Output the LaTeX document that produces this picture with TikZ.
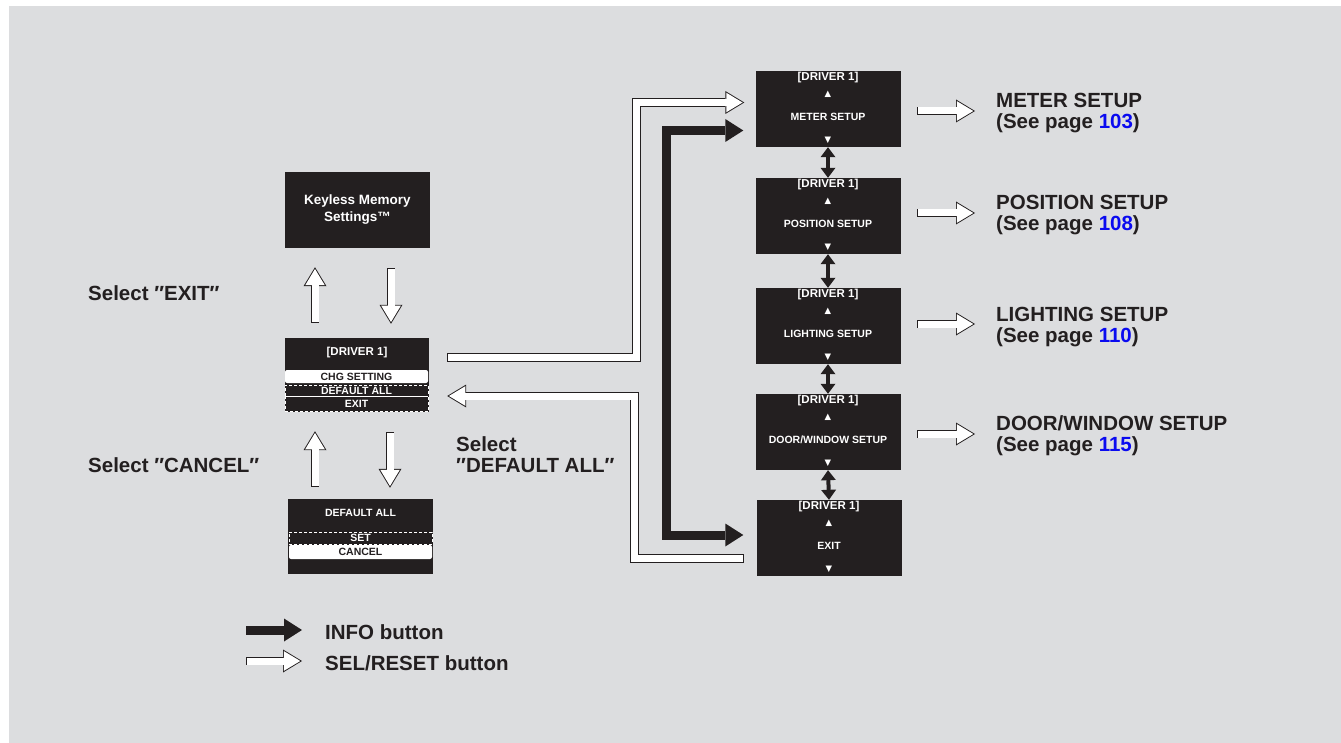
\documentclass[tikz,border=0pt]{standalone}
\usepackage{fontspec}
\setmainfont{Liberation Sans}
\newfontfamily\symfont{DejaVu Sans}
\usetikzlibrary{arrows.meta,calc}
\definecolor{bg}{HTML}{DCDDDF}
\definecolor{ink}{HTML}{231F20}
\definecolor{lnk}{HTML}{0A0AF0}
\newcommand\hollow[1]{\draw[holout] #1; \draw[holin] #1; \draw[holfix] #1;}
\begin{document}
\begin{tikzpicture}[x=1pt,y=-1pt,
  screen/.style={fill=ink, minimum width=145pt, minimum height=76pt, inner sep=0pt},
  scrtxt/.style={text=white, font=\bfseries\fontsize{10.5}{12}\selectfont, inner sep=0pt},
  tri/.style={text=white, font=\symfont\fontsize{8.5}{8.5}\selectfont, inner sep=0pt},
  rowsel/.style={fill=white, rounded corners=2pt, text=ink, font=\bfseries\fontsize{10.5}{12}\selectfont, inner sep=0pt, minimum width=143pt},
  rowdash/.style={draw=white, densely dashed, line width=0.8pt, text=white, font=\bfseries\fontsize{10.5}{12}\selectfont, inner sep=0pt, minimum width=143pt},
  lab/.style={text=ink, font=\bfseries\fontsize{20.5}{21}\selectfont, inner sep=0pt},
  holout/.style={line width=8.8pt, ink, -{Triangle[length=19pt,width=23pt,line width=0pt]}},
  holin/.style={line width=7pt, white, shorten <=0.9pt, shorten >=1.75pt, -{Triangle[length=16.3pt,width=19.6pt,line width=0pt]}},
  holfix/.style={line width=7pt, white, shorten <=0.9pt, shorten >=15pt},
  blk/.style={line width=9pt, ink, -{Triangle[length=18pt,width=23pt,line width=0pt]}},
  blkboth/.style={line width=9pt, ink, {Triangle[length=18pt,width=23pt,line width=0pt]}-{Triangle[length=18pt,width=23pt,line width=0pt]}},
  dbl/.style={line width=4pt, ink, {Triangle[length=10pt,width=15pt,line width=0pt]}-{Triangle[length=10pt,width=15pt,line width=0pt]}}
]
\useasboundingbox (0,0) rectangle (1341,743);
\fill[white] (0,0) rectangle (1341,743);
\fill[bg] (9,6) rectangle (1341,743);

% left column screens
\node[screen] (kms) at (357.5,210) {};
\node[scrtxt, font=\bfseries\fontsize{13.5}{17}\selectfont, align=center] (kmst) at (kms.center) {Keyless Memory\\Settings™};

\node[screen, minimum width=144pt, minimum height=74pt] (d1) at (357,375) {};
\node[scrtxt, font=\bfseries\fontsize{11.5}{12}\selectfont] (d1t) at (357,353) {[DRIVER 1]};
\node[rowsel, minimum height=13pt] (d1a) at (356.5,376.5) {CHG SETTING};
\node[rowdash, minimum height=11pt] (d1b) at (356.5,390.5) {DEFAULT ALL};
\node[rowdash, minimum height=15pt] (d1c) at (356.5,404) {EXIT};

\node[screen, minimum height=75pt] (da) at (360.5,536.5) {};
\node[scrtxt] (dat) at (360.5,513) {DEFAULT ALL};
\node[rowdash, minimum height=12pt] (das) at (360.5,538) {SET};
\node[rowsel, minimum height=14pt] (dac) at (360.5,552) {CANCEL};

% right column screens
\node[screen] (m1) at (828,109) {};
\node[scrtxt, font=\bfseries\fontsize{11.5}{12}\selectfont] (m1a) at ([yshift=31pt]m1.center) {[DRIVER 1]};
\node[tri] (m1b) at ([yshift=15pt]m1.center) {▲};
\node[scrtxt] (m1c) at ([yshift=-8pt]m1.center) {METER SETUP};
\node[tri] (m1d) at ([yshift=-31pt]m1.center) {▼};

\node[screen] (m2) at (828,216) {};
\node[scrtxt, font=\bfseries\fontsize{11.5}{12}\selectfont] (m2a) at ([yshift=31pt]m2.center) {[DRIVER 1]};
\node[tri] (m2b) at ([yshift=15pt]m2.center) {▲};
\node[scrtxt] (m2c) at ([yshift=-8pt]m2.center) {POSITION SETUP};
\node[tri] (m2d) at ([yshift=-31pt]m2.center) {▼};

\node[screen] (m3) at (828,326) {};
\node[scrtxt, font=\bfseries\fontsize{11.5}{12}\selectfont] (m3a) at ([yshift=31pt]m3.center) {[DRIVER 1]};
\node[tri] (m3b) at ([yshift=15pt]m3.center) {▲};
\node[scrtxt] (m3c) at ([yshift=-8pt]m3.center) {LIGHTING SETUP};
\node[tri] (m3d) at ([yshift=-31pt]m3.center) {▼};

\node[screen] (m4) at (828,432) {};
\node[scrtxt, font=\bfseries\fontsize{11.5}{12}\selectfont] (m4a) at ([yshift=31pt]m4.center) {[DRIVER 1]};
\node[tri] (m4b) at ([yshift=15pt]m4.center) {▲};
\node[scrtxt] (m4c) at ([yshift=-8pt]m4.center) {DOOR/WINDOW SETUP};
\node[tri] (m4d) at ([yshift=-31pt]m4.center) {▼};

\node[screen] (m5) at (829,538) {};
\node[scrtxt, font=\bfseries\fontsize{11.5}{12}\selectfont] (m5a) at ([yshift=31pt]m5.center) {[DRIVER 1]};
\node[tri] (m5b) at ([yshift=15pt]m5.center) {▲};
\node[scrtxt] (m5c) at ([yshift=-8pt]m5.center) {EXIT};
\node[tri] (m5d) at ([yshift=-31pt]m5.center) {▼};

% labels (multi-line nodes: base = last line)
\node[lab, anchor=base west] (selexit) at (88,301) {Select ″EXIT″};
\node[lab, anchor=base west] (selcancel) at (88,472) {Select ″CANCEL″};
\node[lab, anchor=base west, align=left] (seldef) at (456,472) {Select\\″DEFAULT ALL″};

\node[lab, anchor=base west, align=left] (l1) at (996,129) {METER SETUP\\(See page \textcolor{lnk}{103})};
\node[lab, anchor=base west, align=left] (l2) at (996,231) {POSITION SETUP\\(See page \textcolor{lnk}{108})};
\node[lab, anchor=base west, align=left] (l3) at (996,342) {LIGHTING SETUP\\(See page \textcolor{lnk}{110})};
\node[lab, anchor=base west, align=left] (l4) at (996,451) {DOOR/WINDOW SETUP\\(See page \textcolor{lnk}{115})};

\node[lab, anchor=base west] (info) at (325,639) {INFO button};
\node[lab, anchor=base west] (sel) at (325,670) {SEL/RESET button};

% coordinates for connectors
\coordinate (sa) at ([xshift=18pt,yshift=17.5pt]d1.east);
\coordinate (sb) at ([xshift=-11pt,yshift=6.5pt]m1.west);
\coordinate (ra) at ([xshift=-12.5pt,yshift=-20.5pt]m5.west);
\coordinate (rb) at ([xshift=18pt,yshift=-21pt]d1.east);
\coordinate (ia) at ([xshift=-12pt,yshift=-21.5pt]m1.west);
\coordinate (ib) at ([xshift=-13pt,yshift=3pt]m5.west);
\coordinate (l1ar) at ([xshift=-21pt,yshift=18pt]l1.base west);
\coordinate (l2ar) at ([xshift=-21pt,yshift=18pt]l2.base west);
\coordinate (l3ar) at ([xshift=-21pt,yshift=18pt]l3.base west);
\coordinate (l4ar) at ([xshift=-21pt,yshift=17pt]l4.base west);

% left vertical hollow arrows
\hollow{([xshift=-42pt,yshift=15pt]d1.north) -- ([xshift=-42.5pt,yshift=-19pt]kms.south)}
\hollow{([xshift=33.5pt,yshift=-20pt]kms.south) -- ([xshift=34pt,yshift=14pt]d1.north)}
\hollow{([xshift=-45.5pt,yshift=12pt]da.north) -- ([xshift=-42pt,yshift=-19pt]d1.south)}
\hollow{([xshift=33pt,yshift=-20pt]d1.south) -- ([xshift=29.5pt,yshift=11pt]da.north)}

% routed hollow arrows
\hollow{(sa) -| ($(sb)+(-108,0)$) -- (sb)}
\hollow{(ra) -| ($(rb)+(187,0)$) -- (rb)}

% INFO loop
\draw[blkboth] (ia) -- ($(ia)+(-76.5,0)$) |- (ib);

% double arrows between menu screens
\draw[dbl] (m1.south) -- (m2.north);
\draw[dbl] (m2.south) -- (m3.north);
\draw[dbl] (m3.south) -- (m4.north);
\draw[dbl] (m4.south) -- (m5.north);

% right hollow arrows
\hollow{($(m1.east |- l1ar)+(16.5,0)$) -- (l1ar)}
\hollow{($(m2.east |- l2ar)+(16.5,0)$) -- (l2ar)}
\hollow{($(m3.east |- l3ar)+(16.5,0)$) -- (l3ar)}
\hollow{($(m4.east |- l4ar)+(16.5,0)$) -- (l4ar)}

% legend arrows
\draw[blk] ([xshift=-79pt,yshift=9pt]info.base west) -- ([xshift=-23pt,yshift=9pt]info.base west);
\hollow{([xshift=-79pt,yshift=9pt]sel.base west) -- ([xshift=-23pt,yshift=9pt]sel.base west)}
\end{tikzpicture}
\end{document}
